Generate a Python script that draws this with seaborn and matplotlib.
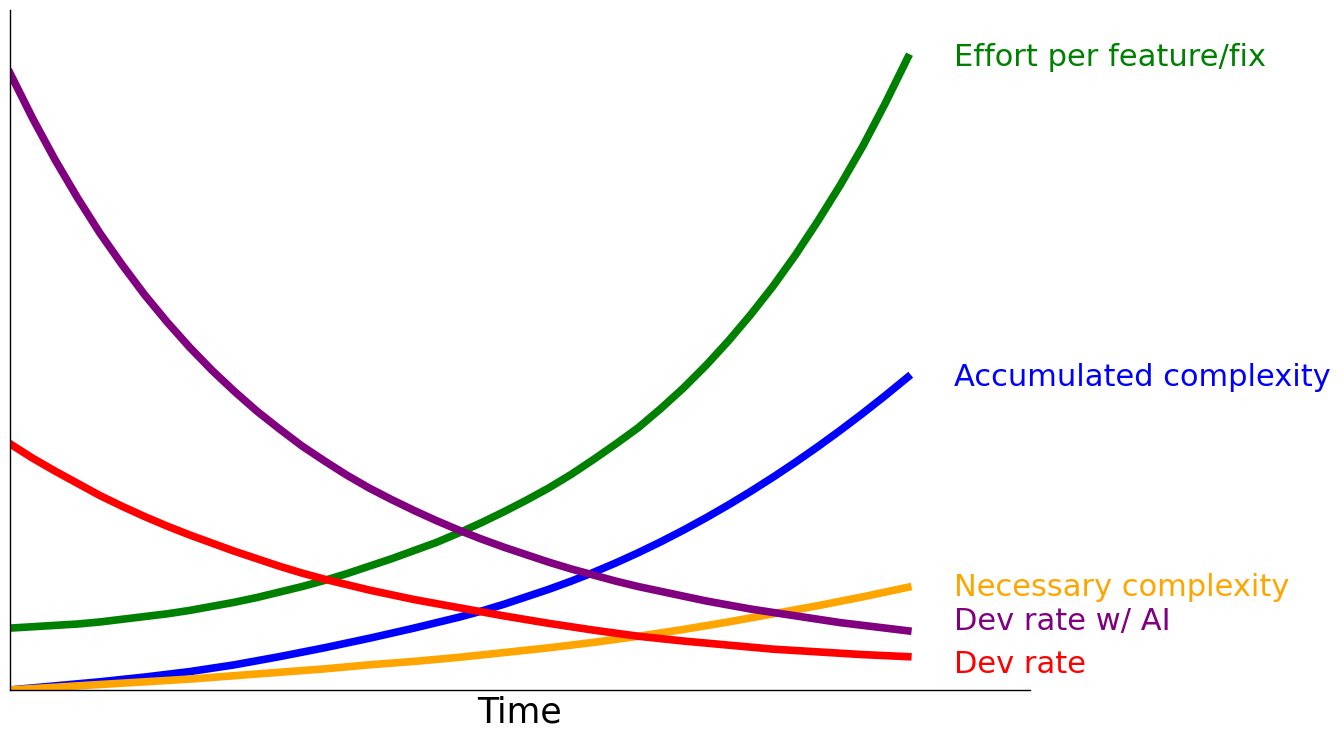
import pandas as pd
import numpy as np
import matplotlib
matplotlib.use("Agg")
import matplotlib.pyplot as plt
import seaborn as sns

# Valores (tiempo 0..10 cada 0.25, unidades arbitrarias)
tiempo = [0, 0.25, 0.5, 0.75, 1, 1.25, 1.5, 1.75, 2, 2.25, 2.5, 2.75, 3, 3.25,
          3.5, 3.75, 4, 4.25, 4.5, 4.75, 5, 5.25, 5.5, 5.75, 6, 6.25, 6.5,
          6.75, 7, 7.25, 7.5, 7.75, 8, 8.25, 8.5, 8.75, 9, 9.25, 9.5, 9.75, 10]
esfuerzo = [0.91, 0.93, 0.95, 0.97, 1.00, 1.04, 1.08, 1.12, 1.17, 1.23, 1.29,
            1.36, 1.44, 1.52, 1.61, 1.71, 1.82, 1.93, 2.05, 2.17, 2.31, 2.46,
            2.62, 2.79, 2.97, 3.17, 3.39, 3.62, 3.86, 4.14, 4.44, 4.77, 5.13,
            5.52, 5.94, 6.40, 6.90, 7.43, 8.00, 8.63, 9.30]
complejidad_acum = [0.0, 0.03, 0.06, 0.09, 0.12, 0.155, 0.19, 0.23, 0.27, 0.32,
                    0.37, 0.43, 0.49, 0.555, 0.62, 0.69, 0.76, 0.835, 0.91, 0.99,
                    1.07, 1.16, 1.26, 1.37, 1.48, 1.60, 1.73, 1.87, 2.02, 2.18,
                    2.35, 2.53, 2.72, 2.92, 3.13, 3.35, 3.58, 3.82, 4.07, 4.33, 4.60]
complejidad_nec = [0.0, 0.02, 0.04, 0.06, 0.08, 0.10, 0.12, 0.14, 0.16, 0.185,
                   0.21, 0.235, 0.26, 0.285, 0.31, 0.34, 0.37, 0.395, 0.42, 0.45,
                   0.48, 0.515, 0.55, 0.585, 0.62, 0.66, 0.70, 0.745, 0.79, 0.84,
                   0.89, 0.945, 1.00, 1.06, 1.12, 1.18, 1.24, 1.305, 1.37, 1.44, 1.51]
dev_rate_ai = [9.07, 8.41, 7.80, 7.24, 6.72, 6.25, 5.81, 5.41, 5.04, 4.70, 4.39,
               4.10, 3.84, 3.59, 3.37, 3.16, 2.97, 2.80, 2.64, 2.49, 2.35, 2.22,
               2.10, 1.99, 1.88, 1.78, 1.69, 1.60, 1.52, 1.45, 1.38, 1.31, 1.25,
               1.19, 1.14, 1.09, 1.04, 0.99, 0.95, 0.91, 0.87]
dev_rate = [3.62, 3.41, 3.22, 3.04, 2.86, 2.70, 2.55, 2.41, 2.28, 2.16, 2.04,
            1.93, 1.82, 1.72, 1.63, 1.55, 1.47, 1.40, 1.33, 1.27, 1.21, 1.15,
            1.09, 1.035, 0.98, 0.93, 0.88, 0.835, 0.79, 0.755, 0.72, 0.69, 0.66,
            0.63, 0.60, 0.58, 0.56, 0.54, 0.52, 0.505, 0.49]

etiquetas = ["Effort per feature/fix", "Accumulated complexity", "Necessary complexity",
             "Dev rate w/ AI", "Dev rate"]
colores = ["green", "blue", "orange", "purple", "red"]
series = [esfuerzo, complejidad_acum, complejidad_nec, dev_rate_ai, dev_rate]

# Ajuste vertical de las etiquetas para que no se encimen
desplazamiento = [0.0, 0.0, 0.0, 0.13, -0.12]

sns.set_style("white", {"axes.edgecolor": "black"})
fig, ax = plt.subplots(figsize=(13.41, 7.40), dpi=100)
plt.subplots_adjust(left=0.0075, right=0.768, bottom=0.0676, top=0.9865)

for y, c in zip(series, colores):
    sns.lineplot(x=tiempo, y=y, ax=ax, color=c, linewidth=5.5, solid_capstyle="projecting")

for y, c, txt, d in zip(series, colores, etiquetas, desplazamiento):
    ax.text(10.52, y[-1] + d, txt, color=c, fontsize=22, va="center", ha="left",
            clip_on=False)

ax.set_xlim(0, 11.36)
ax.set_ylim(0, 10)
ax.set_xticks([])
ax.set_yticks([])
ax.set_xlabel("Time", fontsize=25, labelpad=4, color="black")
ax.set_ylabel("")
sns.despine(ax=ax)
for s in ["left", "bottom"]:
    ax.spines[s].set_linewidth(1)
    ax.spines[s].set_color("black")

plt.savefig("out.png", dpi=100)
